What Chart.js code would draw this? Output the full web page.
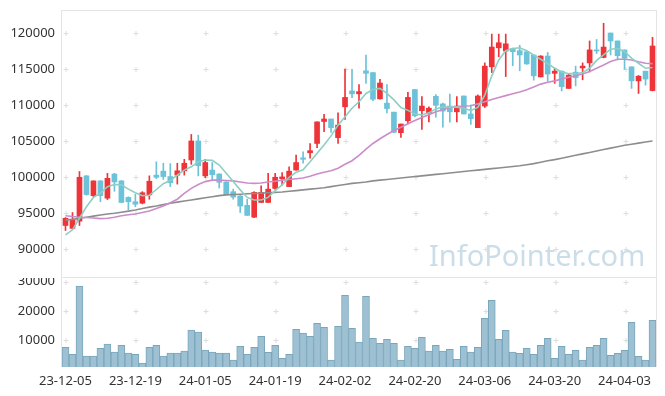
<!DOCTYPE html>
<html>
<head>
<meta charset="utf-8">
<script src="https://cdn.jsdelivr.net/npm/chart.js@4"></script>
<style>
    body {
        margin: 0;
        width: 665px;
        height: 396px;
        overflow: hidden;
        position: relative;
        background: #fff;
        font-family: "Noto Sans", sans-serif;
    }
    #price { position: absolute; left: 0; top: 0; }
    #volume { position: absolute; left: 0; top: 278px; }
    .mark {
        position: absolute;
        left: 429px;
        top: 240px;
        font-size: 29px;
        line-height: 1;
        color: #cadde8;
        white-space: nowrap;
    }
</style>
</head>
<body>
<canvas id="price" width="665" height="278"></canvas>
<canvas id="volume" width="665" height="118"></canvas>
<div class="mark">InfoPointer.com</div>
<script>
// Trading days
const dates = [
    "23-12-05", "23-12-06", "23-12-07", "23-12-08", "23-12-11", "23-12-12", "23-12-13", "23-12-14", "23-12-15", "23-12-18",
    "23-12-19", "23-12-20", "23-12-21", "23-12-22", "23-12-26", "23-12-27", "23-12-28", "24-01-02", "24-01-03", "24-01-04",
    "24-01-05", "24-01-08", "24-01-09", "24-01-10", "24-01-11", "24-01-12", "24-01-15", "24-01-16", "24-01-17", "24-01-18",
    "24-01-19", "24-01-22", "24-01-23", "24-01-24", "24-01-25", "24-01-26", "24-01-29", "24-01-30", "24-01-31", "24-02-01",
    "24-02-02", "24-02-05", "24-02-06", "24-02-07", "24-02-08", "24-02-13", "24-02-14", "24-02-15", "24-02-16", "24-02-19",
    "24-02-20", "24-02-21", "24-02-22", "24-02-23", "24-02-26", "24-02-27", "24-02-28", "24-02-29", "24-03-04", "24-03-05",
    "24-03-06", "24-03-07", "24-03-08", "24-03-11", "24-03-12", "24-03-13", "24-03-14", "24-03-15", "24-03-18", "24-03-19",
    "24-03-20", "24-03-21", "24-03-22", "24-03-25", "24-03-26", "24-03-27", "24-03-28", "24-03-29", "24-04-01", "24-04-02",
    "24-04-03", "24-04-04", "24-04-05", "24-04-08", "24-04-09"
];

const opens = [
    93300, 92900, 93900, 100200, 97450, 99500, 97100, 100450, 99500, 97200,
    96600, 96400, 97550, 100300, 100850, 100100, 100300, 100900, 102400, 105050,
    100200, 101000, 100450, 99350, 98000, 97400, 96100, 94450, 96500, 96500,
    98450, 99800, 98700, 101000, 102700, 103400, 104700, 107750, 108100, 105500,
    109800, 112000, 111600, 114800, 114550, 110900, 110300, 109050, 106200, 107850,
    112200, 109250, 108950, 111250, 110200, 109900, 109100, 111300, 108800, 106900,
    109900, 115350, 118000, 117550, 117900, 117600, 117450, 117000, 113950, 116850,
    114450, 114750, 112350, 114600, 115200, 115900, 117700, 116650, 120050, 118950,
    117700, 115350, 113400, 114750, 112050
];
const highs = [
    94400, 95100, 100800, 100250, 99500, 99550, 100550, 100550, 99550, 97300,
    97650, 98000, 100200, 102150, 101950, 101900, 101950, 102500, 105950, 105850,
    102500, 102050, 100500, 99400, 98350, 97450, 96950, 98000, 98800, 100550,
    100550, 100650, 101450, 103100, 103550, 104700, 107700, 108750, 108100, 108950,
    115050, 115000, 112900, 117000, 114550, 113600, 112900, 109050, 107400, 111800,
    112200, 111200, 109800, 111500, 110300, 111550, 111200, 111300, 110050, 111450,
    115900, 119900, 119900, 119900, 117950, 118350, 117450, 117000, 116900, 117350,
    115150, 114800, 114400, 115450, 115900, 118950, 119150, 121400, 120050, 118950,
    117700, 115350, 114150, 114750, 119450
];
const lows = [
    92600, 92800, 93300, 97500, 97300, 96600, 96900, 98050, 96500, 95500,
    95900, 96300, 96950, 99800, 99700, 98700, 99050, 100300, 101800, 100200,
    99950, 99650, 98500, 97550, 96950, 95100, 94700, 94400, 96500, 96500,
    98300, 98900, 98700, 101000, 101950, 102650, 104100, 106350, 106250, 104700,
    108050, 111050, 109600, 113050, 110650, 110850, 108950, 106200, 105550, 107400,
    108400, 106650, 107700, 108350, 106950, 107650, 107700, 108800, 107350, 106900,
    109700, 114550, 116750, 114000, 115500, 114800, 115700, 113500, 113950, 113350,
    113050, 112000, 112350, 112700, 113550, 114650, 117200, 116600, 117000, 116300,
    115000, 112350, 111650, 112800, 112000
];
const closes = [
    94300, 94100, 100000, 97600, 99500, 97450, 99850, 99350, 96500, 96600,
    96250, 97850, 99450, 100000, 100100, 99250, 100900, 101950, 105050, 101600,
    102050, 100350, 99300, 97600, 97250, 96000, 94700, 97900, 97900, 98350,
    100000, 100050, 100850, 102050, 102500, 103700, 107700, 108100, 106900, 107250,
    111100, 111600, 111900, 114450, 110850, 113100, 109550, 106250, 107400, 111100,
    108550, 109900, 109600, 110000, 109200, 109100, 109900, 108800, 108150, 111300,
    115450, 118100, 118700, 118550, 117450, 117000, 115750, 114100, 116850, 114350,
    114750, 112600, 114200, 113850, 115450, 117700, 117550, 118100, 118950, 116900,
    116550, 113400, 114050, 113650, 118250
];

// Moving averages as drawn on the chart
const ma5 = [
    92000, 92700, 94300, 95900, 97200, 97800, 98700, 99000, 98950, 98350,
    97850, 97450, 97500, 98300, 99100, 99550, 100300, 101000, 101450, 102150,
    102400, 102350, 101700, 100550, 99400, 98250, 97200, 96850, 96850, 97200,
    98150, 98950, 100000, 100700, 101050, 102150, 103350, 104500, 105750, 107250,
    108400, 109600, 110500, 111650, 112200, 112350, 111650, 110750, 109700, 109300,
    108800, 108650, 108950, 109500, 109800, 109750, 109750, 109550, 109300, 109700,
    111400, 114100, 116300, 117600, 117900, 118000, 117600, 117000, 116400, 115800,
    115150, 114650, 114400, 114400, 114550, 115150, 116250, 117000, 117800, 117900,
    117450, 116550, 115850, 115150, 115250
];
const ma20 = [
    94650, 94550, 94450, 94400, 94350, 94250, 94300, 94450, 94650, 94800,
    94900, 95100, 95300, 95650, 96000, 96450, 96950, 97750, 98450, 99000,
    99400, 99600, 99600, 99550, 99500, 99350, 99200, 99150, 99200, 99350,
    99450, 99600, 99700, 99800, 99900, 100150, 100450, 100700, 100900, 101250,
    101800, 102300, 103050, 103900, 104700, 105350, 105950, 106500, 106950, 107450,
    107900, 108300, 108700, 109100, 109400, 109700, 109800, 109900, 109950, 110200,
    110500, 110800, 111100, 111350, 111600, 111850, 112150, 112550, 112950, 113200,
    113400, 113650, 113900, 114100, 114350, 114700, 115150, 115600, 116100, 116400,
    116400, 116300, 116050, 115850, 115800
];
const ma60 = [
    94050, 94150, 94300, 94450, 94600, 94750, 94900, 95000, 95150, 95300,
    95450, 95650, 95850, 96000, 96200, 96400, 96550, 96700, 96850, 97000,
    97150, 97300, 97450, 97550, 97600, 97650, 97700, 97750, 97800, 97850,
    97900, 97950, 98050, 98150, 98250, 98350, 98450, 98550, 98700, 98850,
    99000, 99150, 99250, 99350, 99500, 99600, 99700, 99800, 99900, 100000,
    100100, 100200, 100300, 100400, 100500, 100600, 100700, 100800, 100900, 101000,
    101100, 101200, 101300, 101400, 101500, 101600, 101750, 101900, 102100, 102300,
    102450, 102650, 102850, 103050, 103250, 103450, 103650, 103850, 104050, 104250,
    104450, 104600, 104750, 104900, 105050
];

const volumes = [
    7510, 5100, 28540, 4530, 4530, 7170, 8650, 5900, 8190, 5560,
    5100, 2130, 7510, 8190, 4530, 5560, 5560, 6240, 13450, 12760,
    6590, 5900, 5560, 5500, 3160, 7850, 5100, 7510, 11280, 5790,
    8190, 3730, 5100, 13680, 12420, 11280, 15740, 14370, 3160, 14710,
    25340, 14030, 9330, 25000, 10590, 8880, 10250, 8880, 3160, 7850,
    7170, 10930, 6240, 8190, 6240, 6810, 3380, 7850, 5900, 7510,
    17450, 23630, 10250, 13330, 5900, 5450, 7170, 5100, 8190, 10590,
    3730, 7850, 5100, 6470, 3160, 7510, 8190, 10590, 4780, 5450,
    6470, 16090, 4420, 3160, 16770
];

// Axis ticks
const xTicks = ["23-12-05", "23-12-19", "24-01-05", "24-01-19", "24-02-02", "24-02-20", "24-03-06", "24-03-20", "24-04-03"];
const priceTicks = [90000, 95000, 100000, 105000, 110000, 115000, 120000];
const volumeTicks = [10000, 20000, 30000];

const UP = "#ee3439";
const DOWN = "#6cc2d9";
const candleColors = opens.map((o, i) => (closes[i] >= o ? UP : DOWN));
const tickFont = { family: "'Noto Sans', sans-serif", size: 13 };

// Panel frame + small "+" marks at grid crossings
const crossGrid = {
    id: "crossGrid",
    beforeDatasetsDraw(chart, args, opts) {
        const { ctx, chartArea: a, scales } = chart;
        const x = scales.x, y = scales.y;
        ctx.save();
        ctx.lineWidth = 1;
        ctx.strokeStyle = "#e4e4e4";
        ctx.beginPath();
        ctx.moveTo(a.left - 0.5, a.top);
        ctx.lineTo(a.left - 0.5, a.bottom);
        ctx.moveTo(a.right + 0.5, a.top);
        ctx.lineTo(a.right + 0.5, a.bottom);
        if (opts.top) {
            ctx.moveTo(a.left, a.top + 0.5);
            ctx.lineTo(a.right, a.top + 0.5);
            ctx.moveTo(a.left, a.bottom - 0.5);
            ctx.lineTo(a.right, a.bottom - 0.5);
        }
        ctx.stroke();
        ctx.strokeStyle = "#dddddd";
        ctx.beginPath();
        xTicks.forEach((lbl) => {
            const px = Math.round(x.getPixelForValue(dates.indexOf(lbl))) + 0.5;
            y.ticks.forEach((t) => {
                const py = Math.round(y.getPixelForValue(t.value)) + 0.5;
                ctx.moveTo(px - 2, py);
                ctx.lineTo(px + 3, py);
                ctx.moveTo(px + 0.5, py - 2.5);
                ctx.lineTo(px + 0.5, py + 2.5);
            });
        });
        ctx.stroke();
        ctx.restore();
    },
};

// fixed axis width, no extra room for edge labels
const fixWidth = (scale) => {
    scale.width = 62;
    scale.paddingTop = 0;
    scale.paddingBottom = 0;
};

// Price chart
new Chart(document.getElementById("price"), {
    type: "bar",
    data: {
        labels: dates,
        datasets: [
            {
                type: "line",
                data: ma5,
                borderColor: "#8ecfc3",
                borderWidth: 1.6,
                pointRadius: 0,
                order: 0,
            },
            {
                type: "line",
                data: ma20,
                borderColor: "#cb8dca",
                borderWidth: 1.6,
                pointRadius: 0,
                order: 0,
            },
            {
                type: "line",
                data: ma60,
                borderColor: "#8d8d8d",
                borderWidth: 1.6,
                pointRadius: 0,
                order: 0,
            },
            {
                // bodies
                data: opens.map((o, i) => [o, closes[i]]),
                backgroundColor: candleColors,
                barThickness: 5,
                grouped: false,
                order: 1,
            },
            {
                // wicks
                data: lows.map((l, i) => [l, highs[i]]),
                backgroundColor: candleColors,
                barThickness: 1,
                grouped: false,
                order: 2,
            },
        ],
    },
    options: {
        responsive: false,
        animation: false,
        layout: { padding: { top: 10, right: 9, left: 0, bottom: 0 } },
        plugins: { legend: { display: false }, tooltip: { enabled: false }, crossGrid: { top: true } },
        scales: {
            x: { display: false },
            y: {
                min: 86000,
                max: 123250,
                afterBuildTicks: (s) => { s.ticks = priceTicks.map((v) => ({ value: v })); },
                afterFit: fixWidth,
                grid: { display: false, drawTicks: false },
                border: { display: false },
                ticks: { padding: 7, color: "#333", font: tickFont, callback: (v) => String(v) },
            },
        },
    },
    plugins: [crossGrid],
});

// Volume chart
new Chart(document.getElementById("volume"), {
    type: "bar",
    data: {
        labels: dates,
        datasets: [
            {
                data: volumes,
                backgroundColor: "#9dc1d2",
                borderColor: "#7aa6bc",
                borderWidth: 1,
                barPercentage: 1,
                categoryPercentage: 1,
            },
        ],
    },
    options: {
        responsive: false,
        animation: false,
        layout: { padding: { top: 0, right: 9, left: 0, bottom: 0 } },
        plugins: { legend: { display: false }, tooltip: { enabled: false }, crossGrid: { top: false } },
        scales: {
            x: {
                afterFit: (s) => { s.height = 29; },
                grid: { display: false, drawTicks: false },
                border: { display: false },
                ticks: {
                    autoSkip: false,
                    maxRotation: 0,
                    padding: 6,
                    color: "#333",
                    font: tickFont,
                    callback: (v, i) => (xTicks.includes(dates[i]) ? dates[i] : ""),
                },
            },
            y: {
                min: 750,
                max: 31300,
                afterBuildTicks: (s) => { s.ticks = volumeTicks.map((v) => ({ value: v })); },
                afterFit: fixWidth,
                grid: { display: false, drawTicks: false },
                border: { display: false },
                ticks: { padding: 7, color: "#333", font: tickFont, callback: (v) => String(v) },
            },
        },
    },
    plugins: [crossGrid],
});
</script>
</body>
</html>
